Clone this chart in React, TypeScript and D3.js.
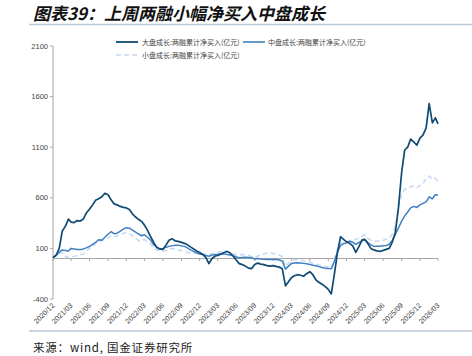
import React from "react";
import * as d3 from "d3";

const dates = [
  "2020-12-01","2020-12-16",
  "2021-01-01","2021-01-16","2021-02-01","2021-02-16","2021-03-01","2021-03-16","2021-04-01","2021-04-16","2021-05-01","2021-05-16","2021-06-01","2021-06-16",
  "2021-07-01","2021-07-16","2021-08-01","2021-08-16","2021-09-01","2021-09-16","2021-10-01","2021-10-16","2021-11-01","2021-11-16","2021-12-01","2021-12-16",
  "2022-01-01","2022-01-16","2022-02-01","2022-02-16","2022-03-01","2022-03-16","2022-04-01","2022-04-16","2022-05-01","2022-05-16","2022-06-01","2022-06-16",
  "2022-07-01","2022-07-16","2022-08-01","2022-08-16","2022-09-01","2022-09-16","2022-10-01","2022-10-16","2022-11-01","2022-11-16","2022-12-01","2022-12-16",
  "2023-01-01","2023-01-16","2023-02-01","2023-02-16","2023-03-01","2023-03-16","2023-04-01","2023-04-16","2023-05-01","2023-05-16","2023-06-01","2023-06-16",
  "2023-07-01","2023-07-16","2023-08-01","2023-08-16","2023-09-01","2023-09-16","2023-10-01","2023-10-16","2023-11-01","2023-11-16","2023-12-01","2023-12-16",
  "2024-01-01","2024-01-16","2024-02-01","2024-02-16","2024-03-01","2024-03-16","2024-04-01","2024-04-16","2024-05-01","2024-05-16","2024-06-01","2024-06-16",
  "2024-07-01","2024-07-16","2024-08-01","2024-08-16","2024-09-01","2024-09-16","2024-10-01","2024-10-16","2024-11-01","2024-11-16","2024-12-01","2024-12-16",
  "2025-01-01","2025-01-16","2025-02-01","2025-02-16","2025-03-01","2025-03-16","2025-04-01","2025-04-16","2025-05-01","2025-05-16","2025-06-01","2025-06-16",
  "2025-07-01","2025-07-16","2025-08-01","2025-08-16","2025-09-01","2025-09-16","2025-10-01","2025-10-16","2025-11-01","2025-11-16","2025-12-01","2025-12-16",
  "2026-01-01","2026-01-16","2026-02-01","2026-02-16","2026-03-01",
];

const largeCap = [
  10, 30, 100, 270, 320, 390, 360, 355, 375, 370, 390, 450,
  490, 530, 575, 590, 610, 645, 630, 580, 540, 530, 515, 505,
  500, 485, 440, 410, 385, 365, 330, 280, 215, 160, 110, 95,
  90, 130, 180, 195, 175, 170, 160, 150, 135, 115, 95, 75,
  60, 40, 10, -50, 0, 25, 30, 45, 60, 70, 55, 25,
  -15, -50, -60, -75, -95, -100, -60, -45, -55, -60, -70, -75,
  -70, -78, -85, -100, -270, -230, -190, -170, -160, -165, -175, -150,
  -130, -160, -210, -235, -255, -275, -305, -350, -160, 50, 215, 190,
  165, 150, 125, 60, 120, 185, 190, 150, 100, 85, 75, 70,
  80, 90, 100, 160, 260, 500, 850, 1070, 1100, 1180, 1150, 1120,
  1190, 1220, 1290, 1530, 1340, 1390, 1330,
];

const midCap = [
  10, 30, 60, 85, 80, 75, 100, 95, 90, 88, 95, 105,
  120, 140, 160, 185, 180, 210, 240, 265, 245, 250, 270, 290,
  305, 300, 280, 260, 240, 225, 235, 210, 180, 135, 115, 95,
  100, 110, 120, 125, 130, 130, 125, 120, 105, 85, 70, 55,
  45, 40, 30, 22, 35, 40, 42, 45, 46, 40, 35, 28,
  15, 8, 10, 12, 10, 8, -5, 0, -5, -8, -10, -10,
  -10, -10, -15, -25, -105, -75, -50, -45, -43, -45, -48, -52,
  -58, -66, -72, -80, -88, -95, -98, -100, -30, 60, 130, 145,
  155, 170, 160, 140, 160, 175, 185, 160, 135, 120, 122, 122,
  125, 128, 140, 175, 240, 300, 370, 420, 460, 500, 515, 505,
  530, 545, 560, 610, 590, 630, 625,
];

const smallCap = [
  10, 40, 70, 55, 20, 10, 15, 20, 30, 40, 45, 70,
  100, 115, 150, 165, 180, 190, 205, 220, 215, 225, 235, 250,
  255, 245, 225, 200, 175, 180, 190, 165, 145, 100, 85, 75,
  72, 80, 90, 98, 95, 85, 78, 70, 60, 56, 55, 52,
  48, 45, 42, 40, 50, 55, 60, 70, 78, 72, 60, 50,
  35, 35, 40, 35, 30, 20, 8, 25, 35, 45, 55, 56,
  50, 45, 35, 20, -75, -45, -28, -15, -10, -15, -22, -26,
  -35, -50, -55, -65, -72, -78, -85, -92, -10, 90, 150, 155,
  158, 175, 185, 190, 200, 220, 235, 200, 180, 175, 170, 172,
  180, 190, 200, 240, 320, 500, 640, 680, 700, 710, 715, 700,
  720, 740, 790, 815, 785, 795, 760,
];

const yTicks = [-400, 100, 600, 1100, 1600, 2100];
const xTickLabels = [
  "2020/12","2021/03","2021/06","2021/09","2021/12","2022/03","2022/06","2022/09","2022/12",
  "2023/03","2023/06","2023/09","2023/12","2024/03","2024/06","2024/09","2024/12",
  "2025/03","2025/06","2025/09","2025/12","2026/03",
];
const seriesNames = [
  "大盘成长:两融累计净买入(亿元)",
  "中盘成长:两融累计净买入(亿元)",
  "小盘成长:两融累计净买入(亿元)",
];
const title = "图表39：上周两融小幅净买入中盘成长";
const source = "来源：wind, 国金证券研究所";

const colors = ["#0f4a74", "#3f7fc2", "#c6daf1"];

export default function App() {
  const parse = d3.timeParse("%Y-%m-%d");
  const parseTick = d3.timeParse("%Y/%m");
  const x = d3
    .scaleTime()
    .domain([parseTick("2020/12") as Date, parseTick("2026/03") as Date])
    .range([53, 438]);
  const y = d3.scaleLinear().domain([-400, 2100]).range([299, 46]);

  const mk = (vals: number[]) =>
    d3
      .line<number>()
      .x((_, i) => x(parse(dates[i]) as Date))
      .y((v) => y(v))(vals) || "";

  const font = "'Liberation Sans', Arial, sans-serif";
  const cjk = "'Noto Sans CJK SC', sans-serif";
  const y0 = y(0);

  return (
    <svg
      width={472}
      height={356}
      style={{ position: "fixed", left: 0, top: 0, background: "#fff" }}
    >
      <rect width={472} height={356} fill="#fff" />
      <text
        x={33}
        y={20}
        fontFamily={cjk}
        fontSize={17}
        fontWeight="bold"
        fontStyle="italic"
        fill="#111"
      >
        {title}
      </text>
      <line x1={29} x2={472} y1={24.5} y2={24.5} stroke="#b9c9d9" strokeWidth={1.5} />

      {/* y axis */}
      <line x1={53} x2={53} y1={y(2100)} y2={y(-400)} stroke="#a6a6a6" strokeWidth={1} />
      {yTicks.map((t) => (
        <g key={t}>
          <line x1={50} x2={53} y1={y(t)} y2={y(t)} stroke="#a6a6a6" />
          <text
            x={48}
            y={y(t)}
            dy="0.35em"
            textAnchor="end"
            fontFamily={font}
            fontSize={7.5}
            fill="#444"
          >
            {t}
          </text>
        </g>
      ))}

      {/* zero axis */}
      <line x1={53} x2={438} y1={y0} y2={y0} stroke="#a6a6a6" strokeWidth={1.2} />
      {xTickLabels.map((lab) => {
        const xp = x(parseTick(lab) as Date);
        return (
          <g key={lab}>
            <line x1={xp} x2={xp} y1={y0} y2={y0 + 2.5} stroke="#a6a6a6" />
            <text
              transform={`translate(${xp + 2},${306}) rotate(-45)`}
              textAnchor="end"
              fontFamily={font}
              fontSize={7.2}
              fill="#444"
            >
              {lab}
            </text>
          </g>
        );
      })}

      {/* series */}
      <path d={mk(smallCap)} fill="none" stroke={colors[2]} strokeWidth={1.6} strokeDasharray="5,3" />
      <path d={mk(midCap)} fill="none" stroke={colors[1]} strokeWidth={1.5} strokeLinejoin="round" />
      <path d={mk(largeCap)} fill="none" stroke={colors[0]} strokeWidth={1.7} strokeLinejoin="round" />

      {/* legend */}
      <line x1={116} x2={138} y1={42} y2={42} stroke={colors[0]} strokeWidth={1.8} />
      <text x={142} y={44.5} fontFamily={cjk} fontSize={7} fill="#444">
        {seriesNames[0]}
      </text>
      <line x1={243} x2={265} y1={42} y2={42} stroke={colors[1]} strokeWidth={1.6} />
      <text x={268} y={44.5} fontFamily={cjk} fontSize={7} fill="#444">
        {seriesNames[1]}
      </text>
      <line x1={116} x2={138} y1={55} y2={55} stroke={colors[2]} strokeWidth={1.6} strokeDasharray="5,3" />
      <text x={142} y={57.5} fontFamily={cjk} fontSize={7} fill="#444">
        {seriesNames[2]}
      </text>

      {/* footer */}
      <line x1={29} x2={472} y1={331} y2={331} stroke="#b9c9d9" strokeWidth={1.5} />
      <text x={33} y={352} fontFamily={cjk} fontSize={11.5} letterSpacing={0.8} fill="#222">
        {source}
      </text>
    </svg>
  );
}
